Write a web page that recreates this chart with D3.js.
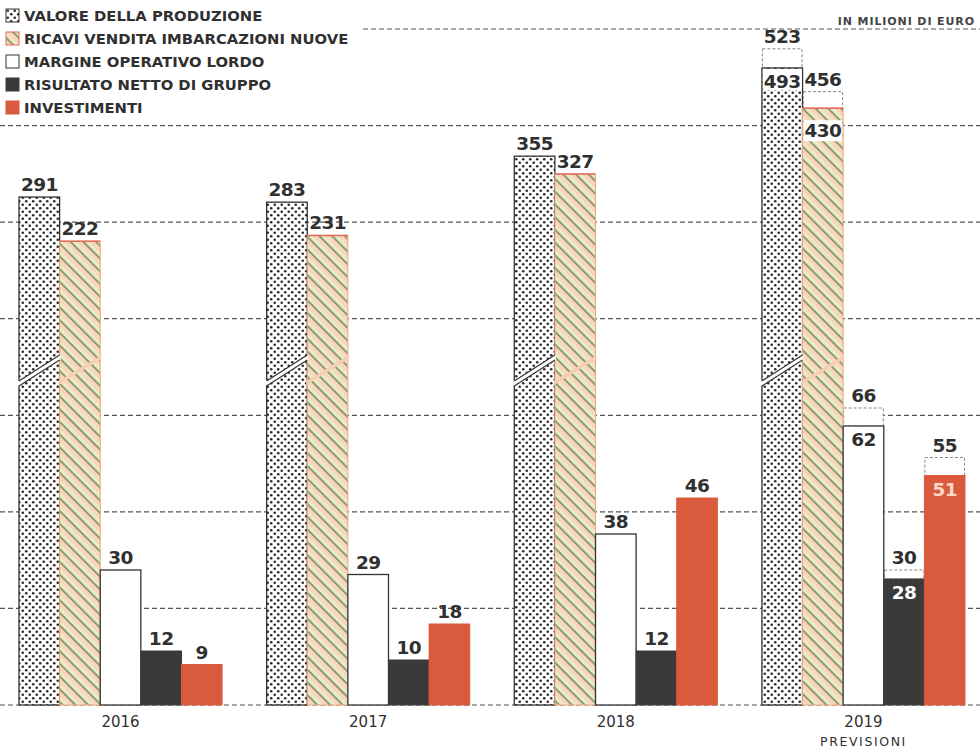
<!DOCTYPE html>
<html>
<head>
<meta charset="utf-8">
<script src="https://cdn.jsdelivr.net/npm/d3@7"></script>
<style>
  body { margin: 0; background: #fff; }
  svg { display: block; }
  text { font-family: "DejaVu Sans", "Open Sans", sans-serif; fill: #303030; }
</style>
</head>
<body>
<div class="chart"></div>
<script>
var svgWidth = 980;
var svgHeight = 752;

// data
var years = ["2016", "2017", "2018", "2019"];
var seriesKeys = ["valore", "ricavi", "margine", "risultato", "investimenti"];
var seriesNames = ["VALORE DELLA PRODUZIONE", "RICAVI VENDITA IMBARCAZIONI NUOVE",
  "MARGINE OPERATIVO LORDO", "RISULTATO NETTO DI GRUPPO", "INVESTIMENTI"];
var valore = [291, 283, 355, 493];
var ricavi = [222, 231, 327, 430];
var margine = [30, 29, 38, 62];
var risultato = [12, 10, 12, 28];
var investimenti = [9, 18, 46, 51];
// 2019 previsioni, valore massimo della forchetta (per serie)
var forecastHigh = [523, 456, 66, 30, 55];
var gridSteps = [0, 1, 2, 3, 4, 5, 6, 7];

var values = { valore: valore, ricavi: ricavi, margine: margine, risultato: risultato, investimenti: investimenti };
var bigSeries = ["valore", "ricavi"];

var baseY = 705;

var svg = d3.select(".chart")
  .append("svg")
  .attr("width", svgWidth)
  .attr("height", svgHeight);

var defs = svg.append("defs");

// dotted pattern
var dots = defs.append("pattern")
  .attr("id", "dots")
  .attr("patternUnits", "userSpaceOnUse")
  .attr("width", 7)
  .attr("height", 7);
dots.append("rect").attr("width", 7).attr("height", 7).attr("fill", "#fff");
dots.append("circle").attr("cx", 1.75).attr("cy", 1.75).attr("r", 1.3).attr("fill", "#2a2a2a");
dots.append("circle").attr("cx", 5.25).attr("cy", 5.25).attr("r", 1.3).attr("fill", "#2a2a2a");

// striped pattern
var stripes = defs.append("pattern")
  .attr("id", "stripes")
  .attr("patternUnits", "userSpaceOnUse")
  .attr("width", 9)
  .attr("height", 9)
  .attr("patternTransform", "rotate(45)");
stripes.append("rect").attr("width", 9).attr("height", 9).attr("fill", "#f8d5bb");
stripes.append("rect").attr("y", 0).attr("width", 9).attr("height", 3.2).attr("fill", "#e6edc9");
stripes.append("rect").attr("y", 3.2).attr("width", 9).attr("height", 1.8).attr("fill", "#86956a");

var fills = {
  valore: "url(#dots)",
  ricavi: "url(#stripes)",
  margine: "#ffffff",
  risultato: "#3a3a3a",
  investimenti: "#da5a3d"
};
var strokes = {
  valore: "#333",
  ricavi: "#f0a57c",
  margine: "#333",
  risultato: "#3a3a3a",
  investimenti: "#da5a3d"
};

// scales
var x0 = d3.scaleBand().domain(years).range([19, 965]).paddingInner(0.18);
var x1 = d3.scaleBand().domain(seriesKeys).range([0, x0.bandwidth()]);

// asse interrotto per le due serie grandi
var yBig = d3.scaleLinear().domain([0, 523]).range([383, 383 - 523 * 0.639]);
var ySmall = d3.scaleLinear().domain([0, 66]).range([baseY, baseY - 66 * 4.5]);
var yGrid = d3.scaleLinear().domain([0, 7]).range([baseY, 29]);

function yOf(key, v) {
  return bigSeries.indexOf(key) >= 0 ? yBig(v) : ySmall(v);
}

// gridlines
svg.append("g").selectAll("line")
  .data(gridSteps)
  .enter().append("line")
  .attr("x1", function(d) { return d === 7 ? 363 : 0; })
  .attr("x2", svgWidth)
  .attr("y1", function(d) { return yGrid(d); })
  .attr("y2", function(d) { return yGrid(d); })
  .attr("stroke", "#555")
  .attr("stroke-width", 1.2)
  .attr("stroke-dasharray", "5,3");

// flatten data
var bars = [];
years.forEach(function(year, i) {
  seriesKeys.forEach(function(key, k) {
    bars.push({ year: year, key: key, value: values[key][i], idx: i, k: k });
  });
});

var chart = svg.append("g");

// forecast dashed boxes (2019)
var lastYear = years[years.length - 1];
var forecastBars = bars.filter(function(d) { return d.year === lastYear; });

chart.selectAll("rect.forecast")
  .data(forecastBars)
  .enter().append("rect")
  .attr("class", "forecast")
  .attr("x", function(d) { return x0(d.year) + x1(d.key) + 0.5; })
  .attr("width", x1.bandwidth() - 1)
  .attr("y", function(d) { return yOf(d.key, forecastHigh[d.k]); })
  .attr("height", function(d) { return yOf(d.key, d.value) - yOf(d.key, forecastHigh[d.k]); })
  .attr("fill", "#fff")
  .attr("stroke", "#888")
  .attr("stroke-width", 1)
  .attr("stroke-dasharray", "3,2");

// bars
chart.selectAll("rect.bar")
  .data(bars)
  .enter().append("rect")
  .attr("class", "bar")
  .attr("x", function(d) { return x0(d.year) + x1(d.key); })
  .attr("width", x1.bandwidth())
  .attr("y", function(d) { return yOf(d.key, d.value); })
  .attr("height", function(d) { return baseY - yOf(d.key, d.value); })
  .attr("fill", function(d) { return fills[d.key]; })
  .attr("stroke", function(d) { return strokes[d.key]; })
  .attr("stroke-width", function(d) { return d.key === "valore" || d.key === "margine" ? 1.3 : 1; });

// red top edge on ricavi bars
chart.selectAll("line.ricTop")
  .data(bars.filter(function(d) { return d.key === "ricavi"; }))
  .enter().append("line")
  .attr("x1", function(d) { return x0(d.year) + x1(d.key); })
  .attr("x2", function(d) { return x0(d.year) + x1(d.key) + x1.bandwidth(); })
  .attr("y1", function(d) { return yOf(d.key, d.value); })
  .attr("y2", function(d) { return yOf(d.key, d.value); })
  .attr("stroke", "#e46a5c")
  .attr("stroke-width", 1.5);

// break symbols on the big bars
var breakY = 368;
var breakRise = 13;
var breakBars = bars.filter(function(d) { return bigSeries.indexOf(d.key) >= 0; });

chart.selectAll("path.break")
  .data(breakBars)
  .enter().append("path")
  .attr("class", "break")
  .attr("d", function(d) {
    var xa = x0(d.year) + x1(d.key) - 1;
    var xb = xa + x1.bandwidth() + 2;
    var gap = d.key === "valore" ? 5 : 4;
    return "M" + xa + "," + (breakY + breakRise) +
      "L" + xb + "," + (breakY - breakRise) +
      "L" + xb + "," + (breakY - breakRise + gap) +
      "L" + xa + "," + (breakY + breakRise + gap) + "Z";
  })
  .attr("fill", function(d) { return d.key === "valore" ? "#fff" : "#f6cfb3"; });

chart.selectAll("path.breakEdge")
  .data(breakBars.filter(function(d) { return d.key === "valore"; }))
  .enter().append("path")
  .attr("class", "breakEdge")
  .attr("d", function(d) {
    var xa = x0(d.year) + x1(d.key);
    var xb = xa + x1.bandwidth();
    return "M" + xa + "," + (breakY + breakRise) + "L" + xb + "," + (breakY - breakRise) +
      "M" + xa + "," + (breakY + breakRise + 5) + "L" + xb + "," + (breakY - breakRise + 5);
  })
  .attr("fill", "none")
  .attr("stroke", "#333")
  .attr("stroke-width", 1.2);

// value labels
var labelFont = "18.5px";

function topLabel(d) {
  return d.year === lastYear ? forecastHigh[d.k] : d.value;
}

chart.selectAll("text.value")
  .data(bars)
  .enter().append("text")
  .attr("class", "value")
  .attr("x", function(d) { return x0(d.year) + x1(d.key) + x1.bandwidth() / 2; })
  .attr("y", function(d) { return yOf(d.key, topLabel(d)) - 6; })
  .attr("text-anchor", "middle")
  .style("font-size", labelFont)
  .style("font-weight", 700)
  .style("letter-spacing", "-0.6px")
  .text(function(d) { return topLabel(d); });

// inner labels for 2019 (valore minimo della forchetta)
var innerColor = { valore: "#303030", ricavi: "#303030", margine: "#303030", risultato: "#fff", investimenti: "#fbd9c3" };

chart.selectAll("rect.innerBg")
  .data(forecastBars.filter(function(d) { return bigSeries.indexOf(d.key) >= 0; }))
  .enter().append("rect")
  .attr("class", "innerBg")
  .attr("x", function(d) { return x0(d.year) + x1(d.key) + 1; })
  .attr("width", x1.bandwidth() - 2)
  .attr("y", function(d) { return yOf(d.key, d.value) + (d.key === "ricavi" ? 12 : 1); })
  .attr("height", 21)
  .attr("fill", "#fff");

chart.selectAll("text.inner")
  .data(forecastBars)
  .enter().append("text")
  .attr("class", "inner")
  .attr("x", function(d) { return x0(d.year) + x1(d.key) + x1.bandwidth() / 2; })
  .attr("y", function(d) { return yOf(d.key, d.value) + (d.key === "ricavi" ? 29 : 20); })
  .attr("text-anchor", "middle")
  .style("font-size", labelFont)
  .style("font-weight", 700)
  .style("letter-spacing", "-0.6px")
  .style("fill", function(d) { return innerColor[d.key]; })
  .text(function(d) { return d.value; });

// x axis labels
svg.append("g").selectAll("text")
  .data(years)
  .enter().append("text")
  .attr("x", function(d) { return x0(d) + x0.bandwidth() / 2; })
  .attr("y", 727)
  .attr("text-anchor", "middle")
  .style("font-size", "15px")
  .text(function(d) { return d; });

svg.append("text")
  .attr("x", x0(lastYear) + x0.bandwidth() / 2)
  .attr("y", 746)
  .attr("text-anchor", "middle")
  .style("font-size", "12.5px")
  .style("letter-spacing", "1.6px")
  .text("PREVISIONI");

// unit
svg.append("text")
  .attr("x", 975)
  .attr("y", 25)
  .attr("text-anchor", "end")
  .style("font-size", "11px")
  .style("font-weight", 700)
  .style("letter-spacing", "0.9px")
  .style("fill", "#444")
  .text("IN MILIONI DI EURO");

// legend
var legend = svg.append("g").attr("transform", "translate(6, 9)");
var legendRows = legend.selectAll("g")
  .data(seriesKeys)
  .enter().append("g")
  .attr("transform", function(d, i) { return "translate(0," + (i * 23) + ")"; });

legendRows.append("rect")
  .attr("width", 13)
  .attr("height", 13)
  .attr("fill", function(d) { return fills[d]; })
  .attr("stroke", function(d) { return d === "ricavi" ? "#e46a5c" : strokes[d]; })
  .attr("stroke-width", 1);

legendRows.append("text")
  .attr("x", 18)
  .attr("y", 12)
  .style("font-size", "14.8px")
  .style("font-weight", 700)
  .text(function(d, i) { return seriesNames[i]; });
</script>
</body>
</html>
